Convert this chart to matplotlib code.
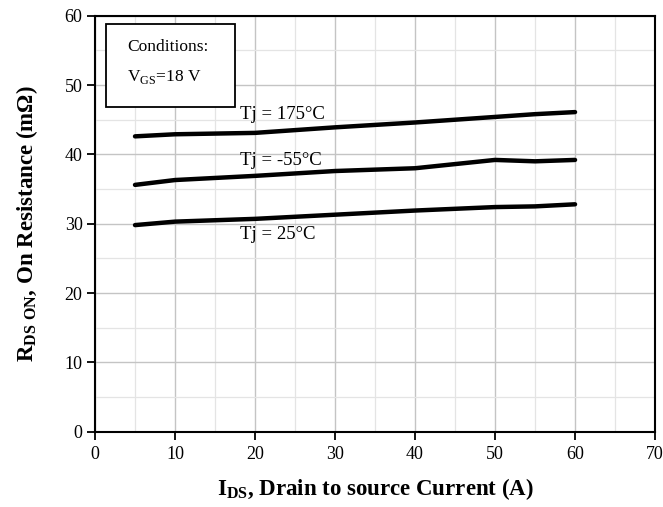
import matplotlib
matplotlib.use('Agg')
import matplotlib.pyplot as plt
from matplotlib.ticker import MultipleLocator
from matplotlib.patches import Rectangle

plt.rcParams['font.family'] = ['Liberation Serif', 'DejaVu Serif']
plt.rcParams['mathtext.fontset'] = 'custom'
plt.rcParams['mathtext.rm'] = 'Liberation Serif'
plt.rcParams['mathtext.bf'] = 'Liberation Serif:bold'

# data
ids = [5, 10, 20, 30, 40, 50, 55, 60]
r_175 = [42.6, 42.9, 43.1, 43.9, 44.6, 45.4, 45.8, 46.1]
r_m55 = [35.6, 36.3, 36.9, 37.6, 38.0, 39.2, 39.0, 39.2]
r_25 = [29.8, 30.3, 30.7, 31.3, 31.9, 32.4, 32.5, 32.8]
curve_labels = ['Tj = 175°C', 'Tj = -55°C', 'Tj = 25°C']

fig = plt.figure(figsize=(6.63, 5.07), dpi=100)
ax = fig.add_axes([0.1433, 0.1485, 0.8447, 0.8205])

for r in (r_175, r_m55, r_25):
    ax.plot(ids, r, color='black', lw=3.2, solid_capstyle='round')

ax.set_xlim(0, 70); ax.set_ylim(0, 60)
ax.xaxis.set_major_locator(MultipleLocator(10))
ax.yaxis.set_major_locator(MultipleLocator(10))
ax.xaxis.set_minor_locator(MultipleLocator(5))
ax.yaxis.set_minor_locator(MultipleLocator(5))
ax.grid(which='major', color='#c4c4c4', lw=1.0)
ax.grid(which='minor', color='#e4e4e4', lw=0.9)
ax.set_axisbelow(True)
ax.tick_params(which='major', direction='out', length=5.5, width=1.3, labelsize=13, colors='black')
ax.tick_params(axis='x', pad=5)
ax.tick_params(which='minor', length=0)
for s in ax.spines.values():
    s.set_linewidth(1.5); s.set_color('black')

# curve labels
ax.text(18.1, 45.8, curve_labels[0], fontsize=13.5, va='center')
ax.text(18.1, 39.1, curve_labels[1], fontsize=13.5, va='center')
ax.text(18.1, 28.4, curve_labels[2], fontsize=13.5, va='center')

# conditions box
ax.add_patch(Rectangle((1.4, 46.9), 16.1, 11.9, facecolor='white', edgecolor='black', lw=1.3, zorder=3))
ax.text(4.0, 55.5, 'Conditions:', fontsize=12.5, va='center', zorder=4)
ax.text(4.0, 51.2, r'V$_{\mathregular{GS}}$=18 V', fontsize=12.5, va='center', zorder=4)

ax.set_xlabel(r'$\mathbf{I_{DS}}$, Drain to source Current (A)', fontsize=16.5, weight='bold', labelpad=9)
ax.set_ylabel(r'$\mathbf{R_{DS\ ON}}$, On Resistance (m$\mathbf{\Omega}$)', fontsize=16.5, weight='bold', labelpad=18)

fig.savefig('out.png', dpi=100, facecolor='white')
